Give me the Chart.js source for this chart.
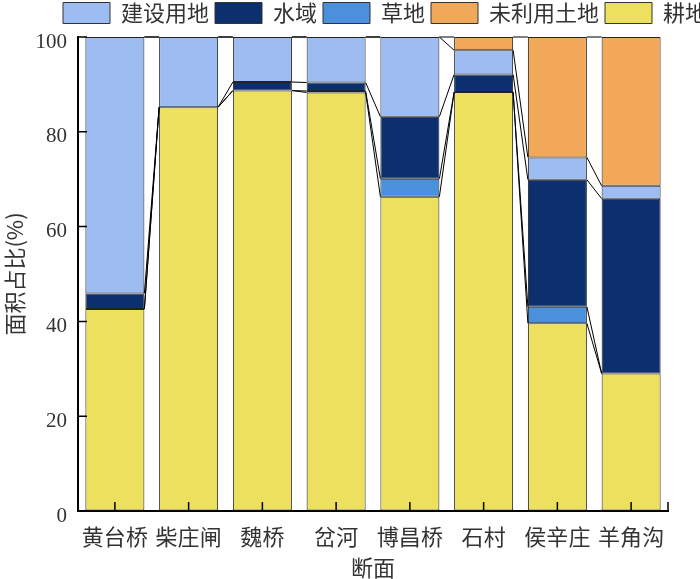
<!DOCTYPE html>
<html>
<head>
<meta charset="utf-8">
<script src="https://cdn.jsdelivr.net/npm/chart.js@4"></script>
<style>
  html, body { margin: 0; padding: 0; background: #fff; }
  #wrap { width: 700px; height: 579px; }
</style>
</head>
<body>
<div id="wrap"><canvas id="landChart"></canvas></div>
<script>
// Sections along the river (x axis)
const sections = ['黄台桥', '柴庄闸', '魏桥', '岔河', '博昌桥', '石村', '侯辛庄', '羊角沟'];

// Land use share per section, % (stacked bottom -> top)
const farmland = [42.6, 85.2, 88.7, 88.3, 66.3, 88.4, 39.6, 29.0];   // 耕地
const grassland = [0, 0, 0, 0.3, 3.8, 0, 3.5, 0];                   // 草地
const water = [3.3, 0, 1.8, 1.8, 13.1, 3.7, 26.8, 36.9];            // 水域
const builtUp = [54.1, 14.8, 9.5, 9.6, 16.8, 5.1, 4.7, 2.7];        // 建设用地
const unused = [0, 0, 0, 0, 0, 2.8, 25.4, 31.4];                    // 未利用土地

const yTicks = [0, 20, 40, 60, 80, 100];

const cjk = '"Noto Sans CJK SC", "Noto Sans", sans-serif';
const serif = '"Liberation Serif", "Times New Roman", serif';
const textColor = '#333';

// Lines joining the top of each segment to the same segment in the next bar
const seriesLines = {
  id: 'seriesLines',
  afterDatasetsDraw(chart) {
    const ctx = chart.ctx;
    ctx.save();
    ctx.strokeStyle = '#000';
    ctx.lineWidth = 1;
    chart.data.datasets.forEach((ds, d) => {
      const bars = chart.getDatasetMeta(d).data;
      for (let i = 0; i < bars.length - 1; i++) {
        const a = bars[i], b = bars[i + 1];
        ctx.beginPath();
        ctx.moveTo(a.x + a.width / 2, a.y);
        ctx.lineTo(b.x - b.width / 2, b.y);
        ctx.stroke();
      }
    });
    ctx.restore();
  }
};

// Tick marks pointing into the plot
const innerTicks = {
  id: 'innerTicks',
  afterDraw(chart) {
    const ctx = chart.ctx;
    const x = chart.scales.x, y = chart.scales.y;
    const area = chart.chartArea;
    ctx.save();
    ctx.strokeStyle = '#000';
    ctx.lineWidth = 1.5;
    ctx.beginPath();
    y.ticks.forEach((t, i) => {
      const py = y.getPixelForTick(i);
      ctx.moveTo(area.left, py);
      ctx.lineTo(area.left + 9, py);
    });
    x.ticks.forEach((t, i) => {
      const px = x.getPixelForTick(i);
      ctx.moveTo(px, area.bottom);
      ctx.lineTo(px, area.bottom - 9);
    });
    ctx.moveTo(area.right, area.bottom);
    ctx.lineTo(area.right, area.bottom - 9);
    ctx.stroke();
    ctx.restore();
  }
};

// Keep the legend row a fixed height and let it run to the right edge
const legendPlacement = {
  id: 'legendPlacement',
  beforeInit(chart) {
    const origFit = chart.legend.fit;
    chart.legend.fit = function () {
      origFit.call(this);
      this.height = 37;
    };
  },
  afterLayout(chart) {
    chart.legend.left = 57;
    chart.legend.right = 720;
    chart.legend.top = -4;
  }
};

function makeSet(label, data, color) {
  return {
    label: label,
    data: data,
    backgroundColor: color,
    borderColor: '#222',
    borderWidth: 1,
    borderSkipped: false,
    barPercentage: 0.8,
    categoryPercentage: 1.0
  };
}

const ctx = document.getElementById('landChart').getContext('2d');
new Chart(ctx, {
  type: 'bar',
  data: {
    labels: sections,
    datasets: [
      makeSet('耕地', farmland, '#ede05f'),
      makeSet('草地', grassland, '#4a90dc'),
      makeSet('水域', water, '#0c2f6e'),
      makeSet('建设用地', builtUp, '#9dbcf1'),
      makeSet('未利用土地', unused, '#f1a858')
    ]
  },
  options: {
    responsive: true,
    maintainAspectRatio: false,
    animation: false,
    layout: { padding: { left: 0, right: 32, top: 0, bottom: 0 } },
    plugins: {
      legend: {
        position: 'top',
        align: 'start',
        labels: {
          boxWidth: 47,
          boxHeight: 21,
          padding: 6,
          color: textColor,
          font: { family: cjk, size: 22 },
          // legend order: 建设用地 水域 草地 未利用土地 耕地
          sort: (a, b) => {
            const order = ['建设用地', '水域', '草地', '未利用土地', '耕地'];
            return order.indexOf(a.text) - order.indexOf(b.text);
          },
          generateLabels(chart) {
            const items = Chart.defaults.plugins.legend.labels.generateLabels(chart);
            items.forEach(it => { it.lineWidth = 1; it.strokeStyle = '#333'; });
            return items;
          }
        }
      },
      tooltip: { enabled: false }
    },
    scales: {
      x: {
        stacked: true,
        grid: { display: true, drawOnChartArea: false, drawTicks: false },
        border: { display: true, color: '#000', width: 2 },
        ticks: {
          autoSkip: false,
          maxRotation: 0,
          padding: 12,
          color: textColor,
          font: { family: cjk, size: 22 }
        },
        title: {
          display: true,
          text: '断面',
          color: textColor,
          padding: { top: 0, bottom: 0 },
          font: { family: cjk, size: 22, lineHeight: 1 }
        },
        afterFit(scale) { scale.height = 68; }
      },
      y: {
        stacked: true,
        min: 0,
        max: 100,
        afterBuildTicks(scale) { scale.ticks = yTicks.map(v => ({ value: v })); },
        grid: { display: true, drawOnChartArea: false, drawTicks: false },
        border: { display: true, color: '#000', width: 2 },
        ticks: {
          padding: 11,
          labelOffset: 5,
          color: textColor,
          font: { family: serif, size: 21 }
        },
        title: {
          display: true,
          text: '面积占比(%)',
          color: textColor,
          padding: { top: 4, bottom: 0 },
          font: { family: cjk, size: 22, lineHeight: 1 }
        },
        afterFit(scale) { scale.width = 78; }
      }
    }
  },
  plugins: [seriesLines, innerTicks, legendPlacement]
});
</script>
</body>
</html>
